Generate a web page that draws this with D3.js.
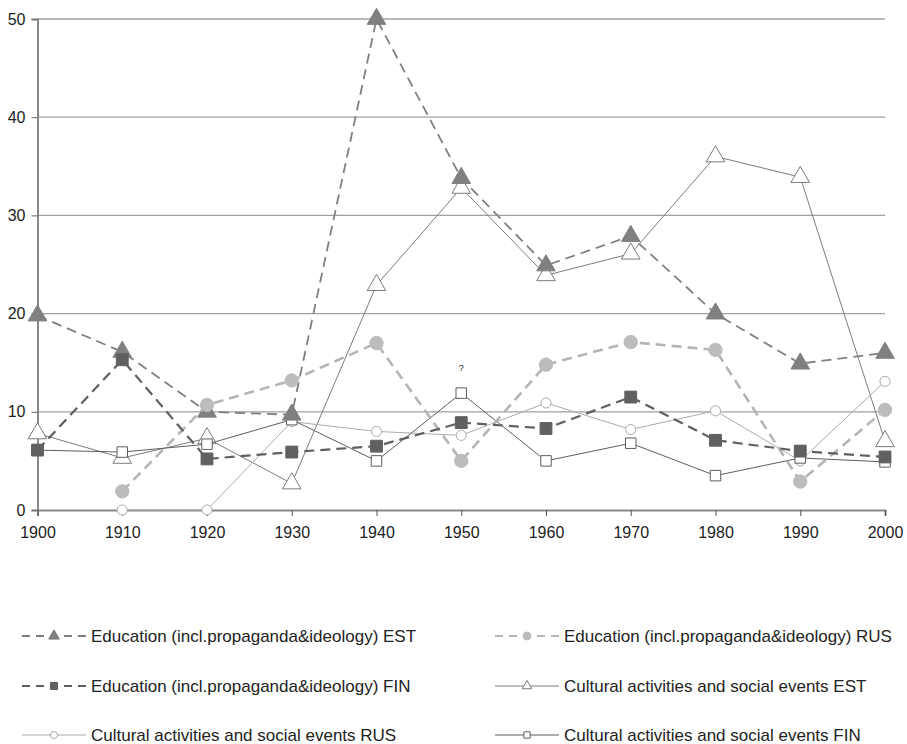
<!DOCTYPE html>
<html>
<head>
<meta charset="utf-8">
<script src="https://cdn.jsdelivr.net/npm/d3@7"></script>
<style>
  body { margin: 0; background: #fff; }
  text { font-family: "Liberation Sans", Arial, sans-serif; fill: #222; }
</style>
</head>
<body>
<svg width="907" height="744"></svg>
<script>
// decades on the x axis
var years = [1900, 1910, 1920, 1930, 1940, 1950, 1960, 1970, 1980, 1990, 2000];
var yTicks = [0, 10, 20, 30, 40, 50];

// series values (null = no value)
var eduEst = [19.8, 16.1, 10.0, 9.7, 50, 33.8, 24.9, 27.9, 20.0, 14.9, 16.0];
var eduRus = [null, 1.9, 10.7, 13.2, 17.0, 5.0, 14.8, 17.1, 16.3, 2.9, 10.2];
var eduFin = [6.1, 15.3, 5.2, 5.9, 6.5, 8.9, 8.3, 11.5, 7.1, 6.0, 5.4];
var culEst = [7.8, 5.3, 7.3, 2.7, 22.9, 32.8, 23.9, 26.1, 36.0, 33.9, 7.0];
var culRus = [null, 0, 0, 9.0, 8.0, 7.6, 10.9, 8.2, 10.1, 5.0, 13.1];
var culFin = [6.1, 5.9, 6.7, 9.2, 5.0, 11.9, 5.0, 6.8, 3.5, 5.3, 4.9];

var names = [
	"Education (incl.propaganda&ideology) EST",
	"Education (incl.propaganda&ideology) RUS",
	"Education (incl.propaganda&ideology) FIN",
	"Cultural activities and social events EST",
	"Cultural activities and social events RUS",
	"Cultural activities and social events FIN"
];

var svg = d3.select("svg");

var x = d3.scaleLinear().domain([1900, 2000]).range([37.5, 885]);
var y = d3.scaleLinear().domain([0, 50]).range([510, 19]);

// cultural series drawn first so the filled education markers sit on top
var series = [
	{ name: names[3], values: culEst, color: "#7c7c7c", width: 1, dash: null, shape: "tri", fill: "#fff", size: 150, mstroke: "#7c7c7c" },
	{ name: names[4], values: culRus, color: "#ababab", width: 1, dash: null, shape: "circ", fill: "#fff", size: 80, mstroke: "#ababab" },
	{ name: names[5], values: culFin, color: "#5e5e5e", width: 1, dash: null, shape: "sq", fill: "#fff", size: 110, mstroke: "#5e5e5e" },
	{ name: names[0], values: eduEst, color: "#808080", width: 1.8, dash: "10,6", shape: "tri", fill: "#808080", size: 150, mstroke: "#808080" },
	{ name: names[1], values: eduRus, color: "#b5b5b5", width: 2.6, dash: "10,6", shape: "circ", fill: "#bcbcbe", size: 140, mstroke: "#bcbcbe" },
	{ name: names[2], values: eduFin, color: "#5f5f5f", width: 2.2, dash: "10,6", shape: "sq", fill: "#606060", size: 140, mstroke: "#606060" }
];

var shapes = { tri: d3.symbolTriangle, circ: d3.symbolCircle, sq: d3.symbolSquare };

// gridlines
svg.append("g")
	.selectAll("line")
	.data(yTicks.filter(d => d > 0))
	.join("line")
	.attr("x1", x(1900)).attr("x2", x(2000))
	.attr("y1", d => y(d)).attr("y2", d => y(d))
	.attr("stroke", "#a0a0a0")
	.attr("stroke-width", 1.3);

// y axis
var yAxis = svg.append("g")
	.attr("transform", "translate(" + x(1900) + ",0)")
	.call(d3.axisLeft(y).tickValues(yTicks).tickSize(6).tickPadding(6));
yAxis.select(".domain").attr("stroke", "#888").attr("stroke-width", 2);
yAxis.selectAll(".tick line").attr("stroke", "#666");
yAxis.selectAll("text").style("font-size", "16px").attr("fill", "#222");

// x axis
var xAxis = svg.append("g")
	.attr("transform", "translate(0," + y(0) + ")")
	.call(d3.axisBottom(x).tickValues(years).tickFormat(d3.format("d")).tickSize(6).tickPadding(11));
xAxis.select(".domain").attr("stroke", "#888").attr("stroke-width", 2);
xAxis.selectAll(".tick line").attr("stroke", "#555");
xAxis.selectAll("text").style("font-size", "16px").attr("fill", "#222");

var line = d3.line()
	.defined(d => d.v !== null)
	.x(d => x(d.year))
	.y(d => y(d.v));

series.forEach(s => {
	var pts = years.map((yr, i) => ({ year: yr, v: s.values[i] }));
	svg.append("path")
		.datum(pts)
		.attr("fill", "none")
		.attr("stroke", s.color)
		.attr("stroke-width", s.width)
		.attr("stroke-dasharray", s.dash)
		.attr("d", line);
	svg.append("g")
		.selectAll("path")
		.data(pts.filter(d => d.v !== null))
		.join("path")
		.attr("transform", d => "translate(" + x(d.year) + "," + y(d.v) + ")")
		.attr("d", d3.symbol().type(shapes[s.shape]).size(s.size))
		.attr("fill", s.fill)
		.attr("stroke", s.mstroke)
		.attr("stroke-width", 1);
});

// question mark above the 1950 FIN point
svg.append("text")
	.attr("x", x(1950))
	.attr("y", y(14.2))
	.attr("text-anchor", "middle")
	.style("font-size", "9px")
	.text("?");

// legend, in the original series order: EST, RUS, FIN education then cultural
var legendPos = [
	[22, 636], [495, 636],
	[22, 686], [495, 686],
	[22, 735], [495, 735]
];
var legendSeries = [series[3], series[4], series[5], series[0], series[1], series[2]];
var legend = svg.append("g");
legendSeries.forEach((s, i) => {
	var p = legendPos[i];
	var g = legend.append("g").attr("transform", "translate(" + p[0] + "," + p[1] + ")");
	g.append("line")
		.attr("x1", 0).attr("x2", 64)
		.attr("stroke", s.color)
		.attr("stroke-width", s.dash ? 2 : 1)
		.attr("stroke-dasharray", s.dash ? "8,6" : null);
	g.append("path")
		.attr("transform", "translate(32,0)")
		.attr("d", d3.symbol().type(shapes[s.shape]).size(s.dash ? 50 : 40))
		.attr("fill", s.fill)
		.attr("stroke", s.mstroke);
	g.append("text")
		.attr("x", 69)
		.attr("dy", "0.35em")
		.style("font-size", "17px")
		.text(s.name);
});
</script>
</body>
</html>
